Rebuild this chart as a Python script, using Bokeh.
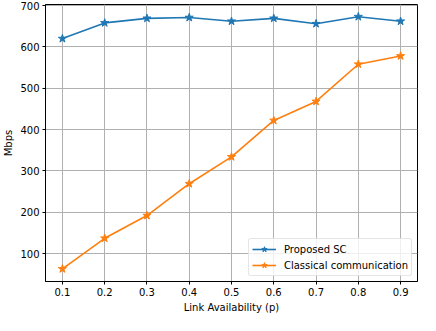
from bokeh.plotting import figure
from bokeh.models import Range1d, FixedTicker, Legend, LegendItem
from bokeh.embed import file_html
from bokeh.resources import INLINE

x_vals = [0.1, 0.2, 0.3, 0.4, 0.5, 0.6, 0.7, 0.8, 0.9]
proposed_sc = [620, 658, 669, 671, 662, 669, 656, 673, 662]
classical = [63, 137, 192, 269, 334, 422, 468, 558, 578]
x_ticks = [0.1, 0.2, 0.3, 0.4, 0.5, 0.6, 0.7, 0.8, 0.9]
y_ticks = [100, 200, 300, 400, 500, 600, 700]
series_names = ["Proposed SC", "Classical communication"]
colors = ["#1f77b4", "#ff7f0e"]

FONT = "DejaVu Sans"
FS = "10px"

p = figure(width=420, height=315, output_backend="svg", toolbar_location=None,
           x_range=Range1d(0.06, 0.94), y_range=Range1d(32.5, 702.5),
           min_border_left=0, min_border_right=3, min_border_top=4, min_border_bottom=0)
p.background_fill_color = "white"
p.border_fill_color = "white"
p.outline_line_color = "black"
p.outline_line_width = 1

for ax in (p.xaxis[0], p.yaxis[0]):
    ax.major_label_text_font = FONT
    ax.major_label_text_font_size = FS
    ax.major_label_text_color = "black"
    ax.axis_label_text_font = FONT
    ax.axis_label_text_font_size = FS
    ax.axis_label_text_font_style = "normal"
    ax.axis_label_text_color = "black"
    ax.axis_line_color = "black"
    ax.major_tick_line_color = "black"
    ax.major_tick_out = 3
    ax.major_tick_in = 0
    ax.minor_tick_line_color = None

p.xaxis.ticker = FixedTicker(ticks=x_ticks)
p.yaxis.ticker = FixedTicker(ticks=y_ticks)
p.xaxis.axis_label = "Link Availability (p)"
p.yaxis.axis_label = "Mbps"
p.xaxis.axis_label_standoff = 3
p.yaxis.axis_label_standoff = 3
p.xaxis.major_label_standoff = 3
p.yaxis.major_label_standoff = 3

p.xgrid.ticker = FixedTicker(ticks=x_ticks)
p.ygrid.ticker = FixedTicker(ticks=y_ticks)
for g in (p.xgrid[0], p.ygrid[0]):
    g.grid_line_color = "#b0b0b0"
    g.grid_line_width = 1

items = []
for ys, name, c in zip([proposed_sc, classical], series_names, colors):
    r1 = p.line(x_vals, ys, line_color=c, line_width=1.6)
    r2 = p.scatter(x_vals, ys, marker="star", size=8.5, fill_color=c, line_color=c)
    items.append(LegendItem(label=name, renderers=[r1, r2]))

legend = Legend(items=items, location="bottom_right")
legend.label_text_font = FONT
legend.label_text_font_size = FS
legend.label_text_color = "black"
legend.border_line_color = "#cccccc"
legend.border_line_width = 1
legend.background_fill_alpha = 0.8
legend.margin = 5
legend.padding = 3
legend.spacing = 2
legend.glyph_width = 24
legend.glyph_height = 14
legend.label_standoff = 8
legend.label_height = 14
if "border_radius" in Legend.properties():
    legend.border_radius = 3
p.add_layout(legend)

open("out.html", "w").write(file_html(p, INLINE))
